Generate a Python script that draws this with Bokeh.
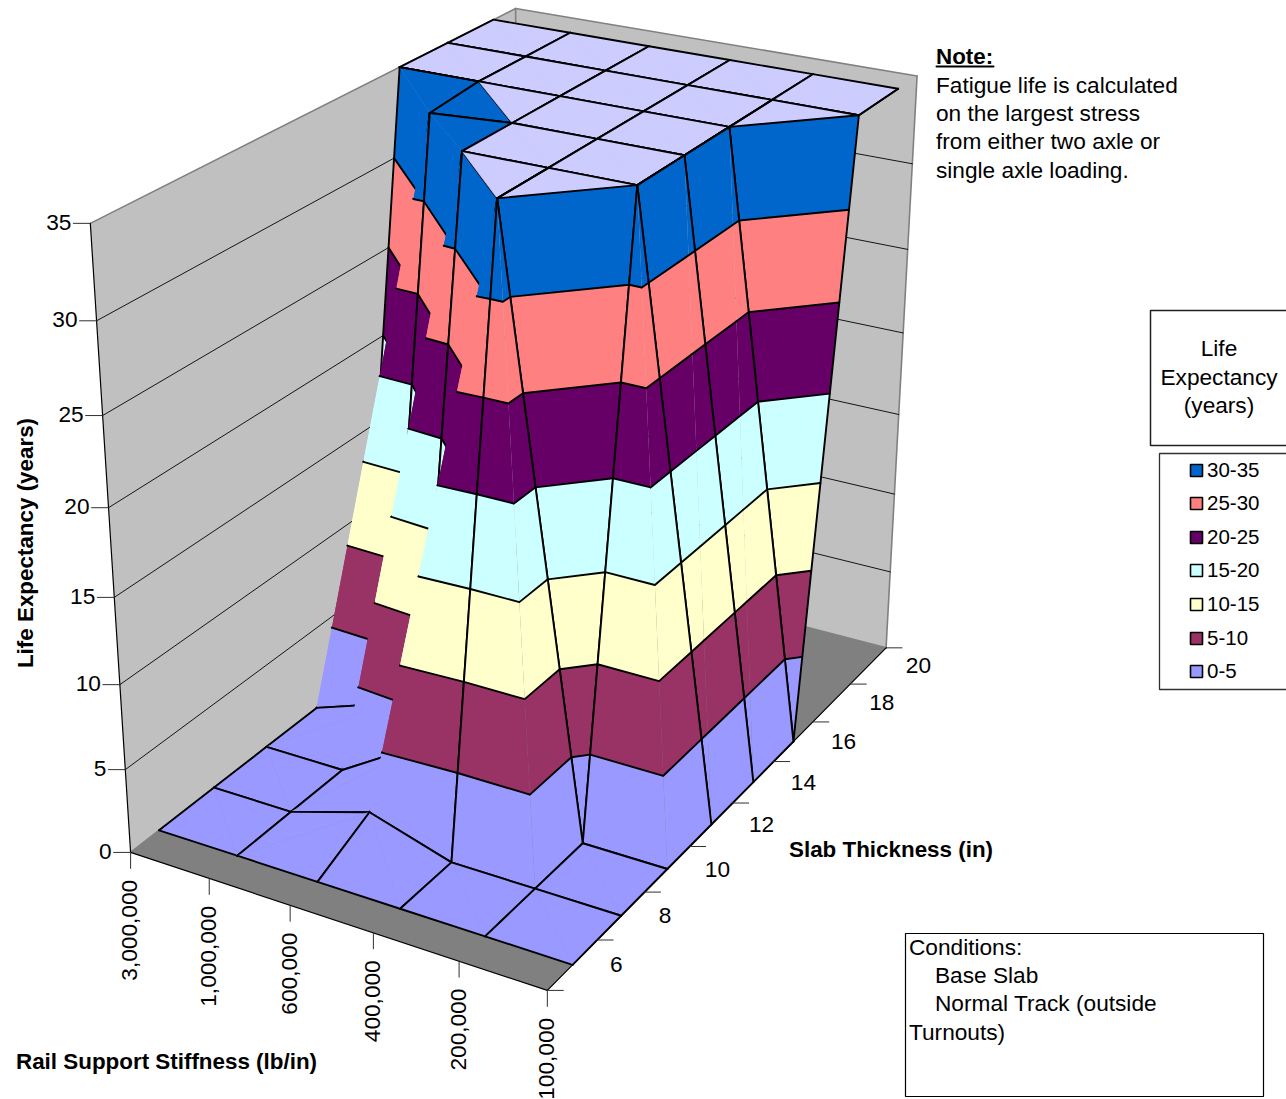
import numpy as np
from bokeh.plotting import figure
from bokeh.models import Range1d
from bokeh.embed import file_html
from bokeh.resources import INLINE
from bokeh.core.properties import value

# ---- chart data -------------------------------------------------------------
stiffness_labels = ["3,000,000", "1,000,000", "600,000", "400,000", "200,000", "100,000"]
thickness_labels = ["6", "8", "10", "12", "14", "16", "18", "20"]
life_3000000 = [0, 0, 0, 0, 1.5, 35, 35, 35]
life_1000000 = [0, 0, 0, 1.7, 34.7, 35, 35, 35]
life_600000 = [0, 1.5, 3, 35, 35, 35, 35, 35]
life_400000 = [0, 0, 35, 35, 35, 35, 35, 35]
life_200000 = [0, 0, 0, 35, 35, 35, 35, 35]
life_100000 = [0, 0, 0, 0, 0, 0, 35, 35]
z_ticks = [0, 5, 10, 15, 20, 25, 30, 35]
band_labels = ["30-35", "25-30", "20-25", "15-20", "10-15", "5-10", "0-5"]
band_lows = [30, 25, 20, 15, 10, 5, 0]
band_colors = ["#0066CC", "#FF8080", "#660066", "#CCFFFF", "#FFFFCC", "#993366", "#9999FF"]
cap_color = "#CCCCFF"
Z_MAX = 35.0
life = np.array([life_3000000, life_1000000, life_600000, life_400000, life_200000, life_100000], float)
NU, NV = life.shape

# ---- camera: a projective map fitted to the reference's cube and grid -------
def vj(j):
    return (j + 0.5) / NV

camera_fit = [
    (0, 0, 0, 130, 852), (1, 0, 0, 547, 990), (1, 1, 0, 886, 646), (0, 1, 1, 515, 8),
    (0, 0, 1, 90, 222), (1, 1, 1, 917, 75),
    (0, vj(0), 0, 158.7, 830), (1, vj(0), 0, 571.7, 964), (1, vj(3), 0, 710, 825),
    (1, vj(4), 0, 752.7, 780.7), (1, vj(5), 0, 793.3, 741.7),
    (0, vj(5), 1, 398.7, 67), (0, vj(7), 1, 493, 19), (1, vj(6), 1, 858, 115), (1, vj(7), 1, 898, 89),
    (.8, vj(5), 1, 729, 127), (.8, vj(3), 1, 636.7, 184), (.6, vj(2), 1, 496.7, 197.3),
    (.4, vj(3), 1, 461.7, 150.7), (.2, vj(5), 1, 478.3, 81), (.4, vj(4), 1, 511.7, 122.7),
    (.6, vj(0), 0, 400, 907.7), (.8, vj(0), 0, 485, 935.7), (.2, vj(0), 0, 237.7, 855.7),
    (.4, vj(0), 0, 317.3, 881), (.6, vj(1), 0, 450.7, 862.7), (.8, vj(2), 0, 581.7, 843),
    (.8, vj(1), 0, 534.3, 889), (.2, vj(1), 0, 290, 809.3), (0, vj(1), 0, 213.3, 788.3),
]
rows = []
for u, v, w, px, py in camera_fit:
    X = [u, v, w, 1.0]
    sx, sy = px / 1000.0, py / 1000.0
    rows.append(X + [0, 0, 0, 0] + [-sx * c for c in X])
    rows.append([0, 0, 0, 0] + X + [-sy * c for c in X])
P = np.linalg.svd(np.array(rows))[2][-1].reshape(3, 4)

def project(u, v, z):
    h = P @ np.array([u, v, z / Z_MAX, 1.0])
    return 1000.0 * h[0] / h[2], 1000.0 * h[1] / h[2]

# ---- figure in screen-pixel space --------------------------------------------
p = figure(width=1286, height=1099, x_range=Range1d(0, 1286), y_range=Range1d(1099, 0),
           output_backend="svg", toolbar_location=None, min_border=0,
           x_axis_location=None, y_axis_location=None, outline_line_color=None)
p.grid.visible = False
p.background_fill_color = "white"
p.border_fill_color = "white"

FONT = value("Liberation Sans")
SIZE = value("22.67px")
BOLD = value("22.4px")

def label(x, y, s, align="left", bold=False, angle=0.0, size=SIZE):
    p.text([x - 0.5], [y - 1.5], text=[s], text_font=FONT, text_font_size=BOLD if bold else size,
           text_color="black", text_align=align, text_baseline="middle", angle=angle,
           text_font_style="bold" if bold else "normal")

def poly(points, fill, line=None, lw=1.0):
    xs, ys = zip(*points)
    p.patch(list(xs), list(ys), fill_color=fill, line_color=line, line_width=lw)

def segs(seglist, color="black", lw=1.9):
    p.multi_line([[a[0], b[0]] for a, b in seglist], [[a[1], b[1]] for a, b in seglist],
                 line_color=color, line_width=lw, line_cap="round", line_join="round")

# ---- walls and floor ----------------------------------------------------------
A, B, C, D = project(0, 0, 0), project(1, 0, 0), project(1, 1, 0), project(0, 1, 0)
At, Ct, Dt = project(0, 0, Z_MAX), project(1, 1, Z_MAX), project(0, 1, Z_MAX)
poly([A, D, Dt, At], "#C0C0C0")
poly([D, C, Ct, Dt], "#C0C0C0")
poly([A, B, C, D], "#808080")
segs([(At, Dt), (Dt, Ct), (Ct, C), (D, Dt), (D, C), (D, A)], "#808080", 1.6)
wall = []
for z in z_ticks[1:-1]:
    wall.append((project(0, 0, z), project(0, 1, z)))
    wall.append((project(0, 1, z), project(1, 1, z)))
segs(wall, "black", 0.9)
segs([(A, At), (A, B), (B, C)], "black", 1.2)

# ---- surface, painted from the far corner to the near corner -------------------
def clip(poly3, lo, hi):
    def cut(pts, f):
        out = []
        for a, b in zip(pts, pts[1:] + pts[:1]):
            fa, fb = f(a), f(b)
            if fa >= 0:
                out.append(a)
            if fa * fb < 0:
                t = fa / (fa - fb)
                out.append(tuple(a[c] + t * (b[c] - a[c]) for c in range(3)))
        return out
    r = cut(poly3, lambda q: q[2] - lo)
    if r:
        r = cut(r, lambda q: hi - q[2])
    return r

def level_segment(tri, L):
    pts = []
    for a, b in zip(tri, tri[1:] + tri[:1]):
        if a[2] == L and b[2] == L:
            return [a, b]
        if (a[2] - L) * (b[2] - L) < 0:
            t = (L - a[2]) / (b[2] - a[2])
            pts.append(tuple(a[c] + t * (b[c] - a[c]) for c in range(3)))
    return pts if len(pts) == 2 else None

def vertex(i, j):
    return (i / (NU - 1), vj(j), life[i, j])

def paint(tri, grid_edges):
    xs, ys, cols = [], [], []
    if min(q[2] for q in tri) >= Z_MAX:
        pieces = [(tri, cap_color)]
    else:
        pieces = [(clip(tri, lo, lo + 5), col) for lo, col in zip(band_lows, band_colors)]
    for piece, col in pieces:
        if len(piece) >= 3:
            pts = [project(*q) for q in piece]
            xs.append([q[0] for q in pts])
            ys.append([q[1] for q in pts])
            cols.append(col)
    # a triangle lying in one band shows no seam along its diagonal
    seamless = len(xs) == 1 and max(q[2] for q in tri) - min(q[2] for q in tri) < 5
    p.patches(xs, ys, fill_color=cols, line_color=cols if seamless else None, line_width=0.6)
    lines = [(project(*a), project(*b)) for a, b in grid_edges]
    for L in range(5, 40, 5):
        s = level_segment(tri, float(L))
        if s:
            lines.append((project(*s[0]), project(*s[1])))
    if lines:
        segs(lines)

for k in range(NV - 2, -1, -1):
    for i in range(NU - 1):
        a, b = vertex(i, k), vertex(i + 1, k)
        c, d = vertex(i + 1, k + 1), vertex(i, k + 1)
        if a[2] + c[2] > b[2] + d[2]:
            # diagonal a-c: far triangle first
            paint([a, d, c], [(a, d), (d, c)])
            paint([a, b, c], [(a, b), (b, c)])
        else:
            # diagonal d-b
            paint([a, b, d], [(a, b), (a, d)])
            paint([b, c, d], [(b, c), (c, d)])

# ---- ticks and tick labels ------------------------------------------------------
ticks = []
for z in z_ticks:
    q = project(0, 0, z)
    ticks.append(((q[0] - 17, q[1]), q))
    label(q[0] - 18.5, q[1] + 0.5, str(z), align="right")
for i, s in enumerate(stiffness_labels):
    q = project(i / (NU - 1), 0, 0)
    ticks.append((q, (q[0], q[1] + 16)))
    label(q[0] - 0.5, q[1] + 29, s, align="right", angle=np.pi / 2)
for j in range(NV + 1):
    q = project(1, j / NV, 0)
    ticks.append((q, (q[0] + 16, q[1])))
for j, s in enumerate(thickness_labels):
    q = project(1, vj(j), 0)
    label(q[0] + 38, q[1] + 1.5, s, align="left")
segs(ticks, "#303030", 1.0)

# ---- axis titles, notes, legend --------------------------------------------------
label(25, 544, "Life Expectancy (years)", align="center", bold=True, angle=np.pi / 2)
label(16, 1062, "Rail Support Stiffness (lb/in)", bold=True)
label(789, 850, "Slab Thickness (in)", bold=True)

label(936, 57, "Note:", bold=True)
segs([((936, 66), (993, 66))], "black", 2)
for y, s in zip([86, 114, 142, 171], ["Fatigue life is calculated", "on the largest stress",
                                       "from either two axle or", "single axle loading."]):
    label(936, y, s)

poly([(1150, 310), (1290, 310), (1290, 445), (1150, 445)], "white", "#202020", 1.5)
for y, s in zip([349, 378, 406], ["Life", "Expectancy", "(years)"]):
    label(1219, y, s, align="center")

poly([(1159, 453), (1290, 453), (1290, 689), (1159, 689)], "white", "#303030", 1.3)
legend_ys = [470, 503, 537, 570, 604, 638, 671]
for y, s, col in zip(legend_ys, band_labels, band_colors):
    poly([(1190, y - 6), (1202, y - 6), (1202, y + 6), (1190, y + 6)], col, "black", 1.6)
    label(1207, y + 1, s, size=value("20.5px"))

poly([(905, 933), (1263, 933), (1263, 1096), (905, 1096)], "white", "black", 1.2)
for x, y, s in [(909, 948, "Conditions:"), (935, 976, "Base Slab"),
                (935, 1004, "Normal Track (outside"), (909, 1033, "Turnouts)")]:
    label(x, y, s)

open("out.html", "w").write(file_html(p, INLINE))
